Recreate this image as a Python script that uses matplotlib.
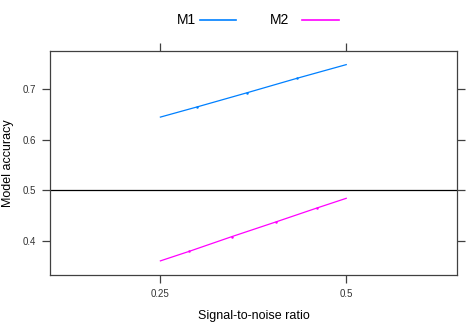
import matplotlib
matplotlib.use("Agg")
import matplotlib.pyplot as plt
from matplotlib.lines import Line2D

plt.rcParams['font.family'] = ['Liberation Sans', 'DejaVu Sans']

# 読み取った値
snr_m1 = [0.25, 0.299, 0.366, 0.434, 0.50]
acc_m1 = [0.645, 0.665, 0.693, 0.722, 0.749]
snr_m2 = [0.25, 0.289, 0.346, 0.405, 0.461, 0.50]
acc_m2 = [0.360, 0.379, 0.408, 0.437, 0.465, 0.484]
x_ticks = [0.25, 0.5]
x_labels = ["0.25", "0.5"]
y_ticks = [0.4, 0.5, 0.6, 0.7]
y_labels = ["0.4", "0.5", "0.6", "0.7"]

col_m1 = "#0080ff"
col_m2 = "#ff00ff"
frame = "#404040"

fig = plt.figure(figsize=(4.66, 3.22), dpi=100)
ax = fig.add_axes([50/466, 47/322, 407/466, 224/322])

ax.plot(snr_m1, acc_m1, color=col_m1, lw=0.9, marker='o', markersize=0.8,
        markevery=[1, 2, 3])
ax.plot(snr_m2, acc_m2, color=col_m2, lw=0.9, marker='o', markersize=0.8,
        markevery=[1, 2, 3, 4])
ax.axhline(0.5, color="black", lw=0.9)

ax.set_xlim(0.1015, 0.649)
ax.set_ylim(0.332, 0.776)

ax.set_xticks(x_ticks)
ax.set_xticklabels(x_labels)
ax.set_yticks(y_ticks)
ax.set_yticklabels(y_labels)
ax.tick_params(axis='both', direction='out', length=6, width=0.9, color=frame,
               labelsize=7, labelcolor="#333333", pad=4,
               top=True, right=True, labeltop=False, labelright=False)
for s in ax.spines.values():
    s.set_color(frame)
    s.set_linewidth(0.9)

ax.set_xlabel("Signal-to-noise ratio", fontsize=9, labelpad=8)
ax.set_ylabel("Model accuracy", fontsize=9, labelpad=6)

# 凡例（上部）
fig.text(177/466, 1 - 20/322, "M1", fontsize=10, ha='left', va='center')
fig.add_artist(Line2D([200/466, 236/466], [1 - 20/322, 1 - 20/322],
                      color=col_m1, lw=1.2, transform=fig.transFigure))
fig.text(270/466, 1 - 20/322, "M2", fontsize=10, ha='left', va='center')
fig.add_artist(Line2D([302/466, 339/466], [1 - 20/322, 1 - 20/322],
                      color=col_m2, lw=1.2, transform=fig.transFigure))

fig.savefig("out.png", dpi=100)
